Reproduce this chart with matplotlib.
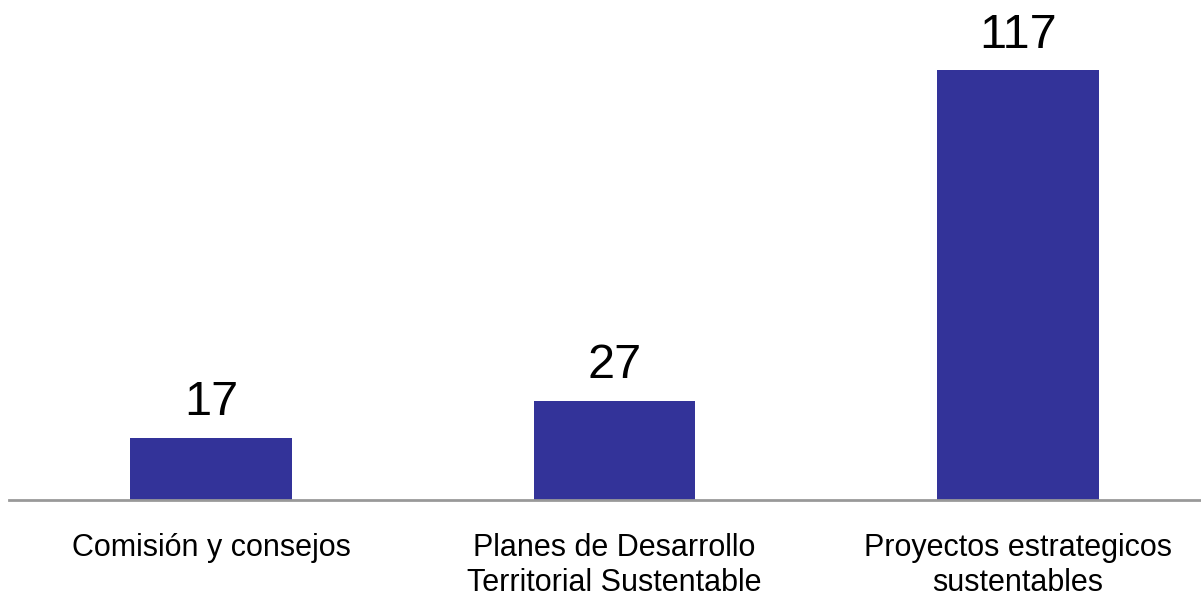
import matplotlib.pyplot as plt

plt.rcParams['font.family'] = ['Liberation Sans', 'DejaVu Sans']

# datos
categorias = ["Comisión y consejos",
              "Planes de Desarrollo\nTerritorial Sustentable",
              "Proyectos estrategicos\nsustentables"]
valores = [17, 27, 117]

fig = plt.figure(figsize=(12.01, 5.98), dpi=100)
# eje: de x=9 px a 1201 px, base en y=500 px
ax = fig.add_axes([9.25 / 1201, 98 / 598, (1201 - 9.25) / 1201, 500 / 598])

x = range(len(valores))
bars = ax.bar(x, valores, width=0.4, color='#333399')
ax.bar_label(bars, labels=[str(v) for v in valores], fontsize=35, padding=9)

ax.set_xlim(-0.5, 2.4535)
ax.set_ylim(0, 136.05)
ax.set_xticks(list(x))
ax.set_xticklabels(categorias, fontsize=22, linespacing=1.2)
ax.tick_params(axis='x', length=0, pad=24)
ax.set_yticks([])

for s in ['top', 'right', 'left']:
    ax.spines[s].set_visible(False)
ax.spines['bottom'].set_color('#999999')
ax.spines['bottom'].set_linewidth(2)

fig.savefig("out.png", dpi=100)
